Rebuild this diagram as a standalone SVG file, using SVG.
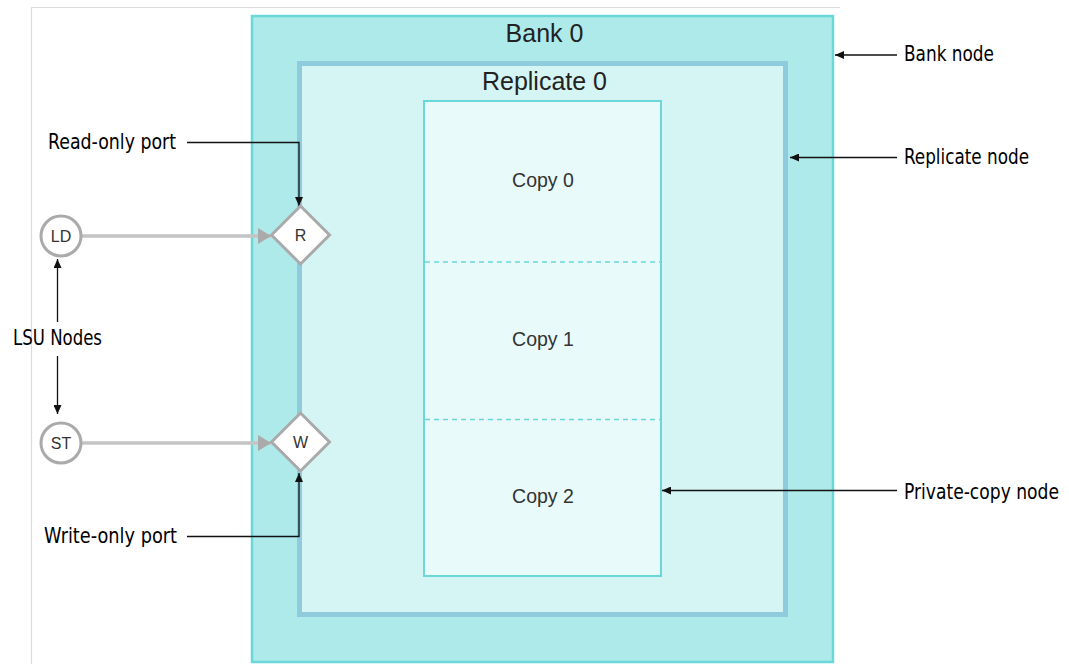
<svg xmlns="http://www.w3.org/2000/svg" width="1069" height="664" viewBox="0 0 1069 664">
<style>
.lbl{font-family:"Liberation Sans Narrow","DejaVu Sans Condensed","DejaVu Sans",sans-serif;font-stretch:condensed;font-size:22px;fill:#000}
.ttl{font-family:"Liberation Sans",Arial,sans-serif;font-size:25px;fill:#222;text-anchor:middle}
.cpy{font-family:"Liberation Sans",Arial,sans-serif;font-size:19.5px;fill:#333;text-anchor:middle}
.nd{font-family:"Liberation Sans",Arial,sans-serif;font-size:16px;fill:#333;text-anchor:middle}
.ann{fill:none;stroke:#111;stroke-width:1.3}
.flow{fill:none;stroke:#c4c4c4;stroke-width:3.5}
.shape{fill:#fff;stroke:#aaa;stroke-width:3}
</style>
<defs>
<marker id="ah" markerUnits="userSpaceOnUse" markerWidth="10" markerHeight="8" refX="9" refY="4" orient="auto">
<path d="M0,0 L9,4 L0,8 Z" fill="#111"/>
</marker>
<marker id="gh" markerUnits="userSpaceOnUse" markerWidth="14" markerHeight="16" refX="13" refY="8" orient="auto">
<path d="M0,0 L13,8 L0,16 Z" fill="#aaa"/>
</marker>
</defs>
<rect width="1069" height="664" fill="#fff"/>
<path d="M31.5,664 V7.5 H840" fill="none" stroke="#dcdcdc" stroke-width="1.2"/>
<g id="bank">
<rect x="252" y="16" width="581" height="646" fill="#aeeaea" stroke="#6ad8d8" stroke-width="2.5"/>
<text class="ttl" x="544.5" y="42">Bank 0</text>
</g>
<g id="replicate">
<rect x="299.5" y="63.5" width="486" height="551" fill="#d5f5f5" stroke="#8ecbdc" stroke-width="5"/>
<text class="ttl" x="544.5" y="90">Replicate 0</text>
</g>
<g id="copies">
<rect x="424" y="101" width="237" height="475" fill="#e8fafa" stroke="#6ad8d8" stroke-width="2"/>
<line x1="425" y1="262" x2="660" y2="262" stroke="#6ad8d8" stroke-width="1.5" stroke-dasharray="5 4"/>
<line x1="425" y1="419.5" x2="660" y2="419.5" stroke="#6ad8d8" stroke-width="1.5" stroke-dasharray="5 4"/>
<text class="cpy" x="543" y="187">Copy 0</text>
<text class="cpy" x="543" y="346">Copy 1</text>
<text class="cpy" x="543" y="503">Copy 2</text>
</g>
<g id="connectors">
<line class="flow" x1="82" y1="236" x2="271" y2="236" marker-end="url(#gh)"/>
<line class="flow" x1="82" y1="443" x2="271" y2="443" marker-end="url(#gh)"/>
<line class="ann" x1="897" y1="55" x2="835" y2="55" marker-end="url(#ah)"/>
<line class="ann" x1="897" y1="157.5" x2="790" y2="157.5" marker-end="url(#ah)"/>
<line class="ann" x1="897" y1="490.5" x2="662" y2="490.5" marker-end="url(#ah)"/>
<polyline class="ann" points="187,142.5 299,142.5 299,206" marker-end="url(#ah)"/>
<polyline class="ann" points="187,536.5 299,536.5 299,473" marker-end="url(#ah)"/>
<line class="ann" x1="57.5" y1="322" x2="57.5" y2="259" marker-end="url(#ah)"/>
<line class="ann" x1="57.5" y1="356" x2="57.5" y2="414" marker-end="url(#ah)"/>
</g>
<g id="ld">
<circle class="shape" cx="61" cy="236" r="20"/>
<text class="nd" x="61" y="242">LD</text>
</g>
<g id="st">
<circle class="shape" cx="61" cy="443" r="20"/>
<text class="nd" x="61" y="449">ST</text>
</g>
<g id="r-port">
<polygon class="shape" points="300.5,206 329.5,235 300.5,264 271.5,235"/>
<text class="nd" x="300.5" y="241">R</text>
</g>
<g id="w-port">
<polygon class="shape" points="300.5,413 329.5,442 300.5,471 271.5,442"/>
<text class="nd" x="300.5" y="448">W</text>
</g>
<g id="labels">
<text class="lbl" x="48" y="149" textLength="128" lengthAdjust="spacingAndGlyphs">Read-only port</text>
<text class="lbl" x="44" y="543" textLength="133" lengthAdjust="spacingAndGlyphs">Write-only port</text>
<text class="lbl" x="13" y="345" textLength="89" lengthAdjust="spacingAndGlyphs">LSU Nodes</text>
<text class="lbl" x="904" y="61" textLength="90" lengthAdjust="spacingAndGlyphs">Bank node</text>
<text class="lbl" x="904" y="164" textLength="125" lengthAdjust="spacingAndGlyphs">Replicate node</text>
<text class="lbl" x="904" y="499" textLength="155" lengthAdjust="spacingAndGlyphs">Private-copy node</text>
</g>
</svg>
